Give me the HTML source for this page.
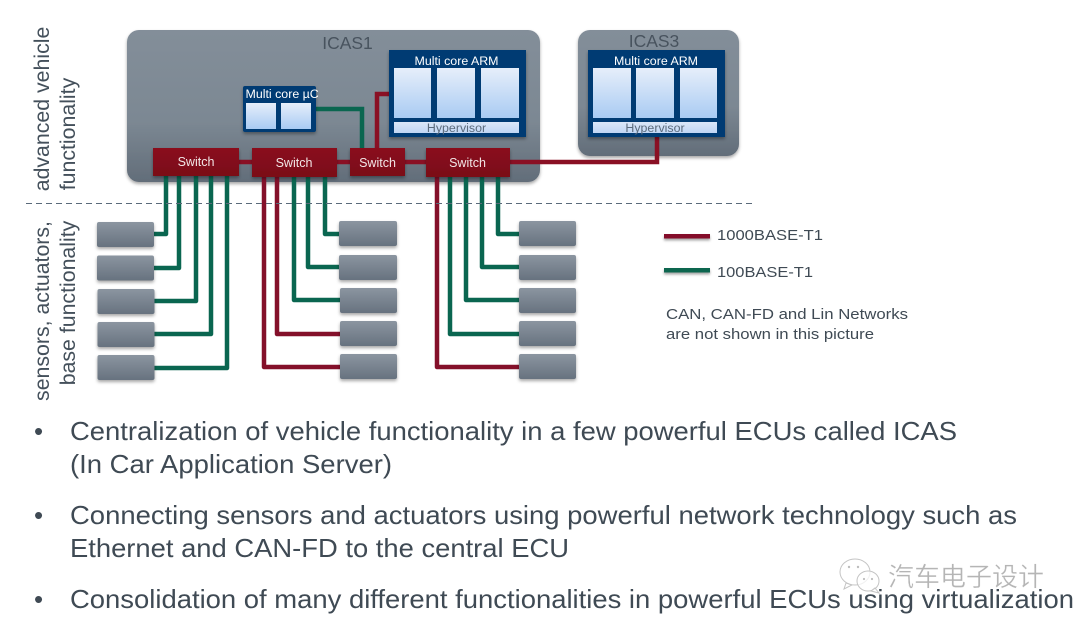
<!DOCTYPE html>
<html><head><meta charset="utf-8"><style>
html,body{margin:0;padding:0;background:#fff;width:1080px;height:624px;overflow:hidden}
svg{display:block;filter:blur(.35px)}
text{font-family:"Liberation Sans","Noto Sans CJK SC",sans-serif}
</style></head><body>
<svg width="1080" height="624" viewBox="0 0 1080 624" xmlns="http://www.w3.org/2000/svg">
<defs>
<linearGradient id="g1" x1="0" y1="0" x2="0" y2="1"><stop offset="0" stop-color="#838e99"/><stop offset=".6" stop-color="#7c8893"/><stop offset="1" stop-color="#626d79"/></linearGradient>
<linearGradient id="g2" x1="0" y1="0" x2="0" y2="1"><stop offset="0" stop-color="#8b95a0"/><stop offset="1" stop-color="#67727f"/></linearGradient>
<linearGradient id="c" x1="0" y1="0" x2="0" y2="1"><stop offset="0" stop-color="#e6eefa"/><stop offset="1" stop-color="#a9cbf3"/></linearGradient>
<linearGradient id="h" x1="0" y1="0" x2="0" y2="1"><stop offset="0" stop-color="#dbe7f8"/><stop offset="1" stop-color="#c0d6f4"/></linearGradient>
<linearGradient id="s" x1="0" y1="0" x2="0" y2="1"><stop offset="0" stop-color="#8a0f1e"/><stop offset="1" stop-color="#7a0a18"/></linearGradient>
<filter id="sh" x="-10%" y="-20%" width="120%" height="140%"><feDropShadow dx="0" dy="2" stdDeviation="1.6" flood-color="#000" flood-opacity=".35"/></filter>
<filter id="sl" filterUnits="userSpaceOnUse" x="650" y="220" width="80" height="70"><feDropShadow dx="0" dy="2" stdDeviation="1.2" flood-color="#000" flood-opacity=".35"/></filter>
</defs>

<!-- Server boxes -->
<rect x="127" y="30" width="413" height="152" rx="12" fill="url(#g1)" filter="url(#sh)"/>
<rect x="578" y="30" width="161" height="126" rx="12" fill="url(#g1)" filter="url(#sh)"/>
<text x="347.500" y="49" font-size="17.500" fill="#48535e" text-anchor="middle">ICAS1</text>
<text x="654" y="47" font-size="17.500" fill="#48535e" text-anchor="middle">ICAS3</text>

<!-- Internal connectors -->
<g fill="none" stroke-width="4.500">
<path d="M316 109H362V150" stroke="#0a6650"/>
<path d="M377 150V94H391" stroke="#8a1024"/>
<path d="M239 162H252M337 162H350M405 162H426M510 162H657V136" stroke="#8a1024"/>
</g>

<!-- Multi core ARM ICAS1 -->
<g filter="url(#sh)"><rect x="389" y="50" width="137" height="87" fill="#003b73"/></g>
<rect x="394" y="68" width="37" height="50" fill="url(#c)"/>
<rect x="437" y="68" width="38" height="50" fill="url(#c)"/>
<rect x="481" y="68" width="38" height="50" fill="url(#c)"/>
<rect x="394" y="122" width="125" height="11" fill="url(#h)"/>
<text x="456.500" y="65" font-size="12.400" fill="#fff" text-anchor="middle">Multi core ARM</text>
<text x="456.500" y="132" font-size="12.400" fill="#5b6b7c" text-anchor="middle">Hypervisor</text>

<!-- Multi core ARM ICAS3 -->
<g filter="url(#sh)"><rect x="588" y="50" width="137" height="87" fill="#003b73"/></g>
<rect x="593" y="68" width="38" height="50" fill="url(#c)"/>
<rect x="636" y="68" width="38" height="50" fill="url(#c)"/>
<rect x="680" y="68" width="37" height="50" fill="url(#c)"/>
<rect x="593" y="122" width="124" height="11" fill="url(#h)"/>
<text x="656" y="65" font-size="12.400" fill="#fff" text-anchor="middle">Multi core ARM</text>
<text x="655" y="132" font-size="12.400" fill="#5b6b7c" text-anchor="middle">Hypervisor</text>

<!-- Multi core uC -->
<g filter="url(#sh)"><rect x="243" y="86" width="73" height="46" rx="2" fill="#003b73"/></g>
<rect x="246" y="103" width="30" height="26" fill="url(#c)"/>
<rect x="281" y="103" width="30" height="26" fill="url(#c)"/>
<text x="245.500" y="98" font-size="12.400" fill="#fff">Multi core µC</text>

<!-- Device connectors -->
<g fill="none" stroke-width="4.500" stroke-linejoin="round">
<g stroke="#0a6650">
<path d="M166 176V234H154"/>
<path d="M179 176V268H154"/>
<path d="M196 176V301H154"/>
<path d="M211 176V334H154"/>
<path d="M227 176V368H154"/>
<path d="M294 176V300H340"/>
<path d="M308 176V267H340"/>
<path d="M325 176V234H340"/>
<path d="M450 176V334H520"/>
<path d="M466 176V300H520"/>
<path d="M482 176V267H520"/>
<path d="M498 176V234H520"/>
</g>
<g stroke="#84102a">
<path d="M264 176V367H340"/>
<path d="M277 176V334H340"/>
<path d="M437 176V367H520"/>
</g>
</g>

<!-- Switches -->
<g filter="url(#sh)">
<rect x="153" y="148" width="86" height="28" fill="url(#s)"/>
<rect x="252" y="148" width="85" height="29" fill="url(#s)"/>
<rect x="350" y="148" width="55" height="28" fill="url(#s)"/>
<rect x="426" y="148" width="84" height="29" fill="url(#s)"/>
</g>
<g font-size="12.500" fill="#f2e6e6" text-anchor="middle">
<text x="196" y="166">Switch</text>
<text x="294" y="167">Switch</text>
<text x="377.500" y="167">Switch</text>
<text x="467.500" y="167">Switch</text>
</g>

<!-- Dashed divider -->
<line x1="26" y1="203.500" x2="755" y2="203.500" stroke="#5a6a7a" stroke-width="1" stroke-dasharray="6 4"/>

<!-- Device boxes -->
<g fill="url(#g2)" filter="url(#sh)">
<rect x="97" y="222" width="57" height="25" rx="2"/>
<rect x="97" y="255.500" width="57" height="25" rx="2"/>
<rect x="97.500" y="289" width="57" height="25" rx="2"/>
<rect x="97.500" y="322" width="57" height="25" rx="2"/>
<rect x="97.500" y="355" width="57" height="25" rx="2"/>
<rect x="339" y="221" width="58" height="25" rx="2"/>
<rect x="339" y="255" width="58" height="25" rx="2"/>
<rect x="340" y="288" width="57" height="25" rx="2"/>
<rect x="340" y="321" width="57" height="25" rx="2"/>
<rect x="340" y="354" width="57" height="25" rx="2"/>
<rect x="519" y="221" width="57" height="25" rx="2"/>
<rect x="519" y="255" width="57" height="25" rx="2"/>
<rect x="519" y="288" width="57" height="25" rx="2"/>
<rect x="519" y="321" width="57" height="25" rx="2"/>
<rect x="519" y="354" width="57" height="25" rx="2"/>
</g>

<!-- Rotated labels -->
<g font-size="21.300" fill="#44505b" text-anchor="middle">
<text transform="translate(49 109) rotate(-90)">advanced vehicle</text>
<text transform="translate(75 134) rotate(-90)">functionality</text>
<text transform="translate(49 311) rotate(-90)">sensors, actuators,</text>
<text transform="translate(75 303) rotate(-90)">base functionality</text>
</g>

<!-- Legend -->
<g filter="url(#sl)">
<rect x="664" y="234" width="46" height="4.500" fill="#84102a"/>
<rect x="664" y="268" width="46" height="4.500" fill="#0a6650"/>
</g>
<g font-size="15" fill="#3f4a54">
<text x="717" y="240" textLength="106" lengthAdjust="spacingAndGlyphs">1000BASE-T1</text>
<text x="717" y="277" textLength="96" lengthAdjust="spacingAndGlyphs">100BASE-T1</text>
<text x="666" y="319" textLength="242" lengthAdjust="spacingAndGlyphs">CAN, CAN-FD and Lin Networks</text>
<text x="666" y="339" textLength="208" lengthAdjust="spacingAndGlyphs">are not shown in this picture</text>
</g>

<!-- Body text -->
<g font-size="26" fill="#3f4a54">
<text x="34" y="440">•</text>
<text x="70" y="440" textLength="887" lengthAdjust="spacingAndGlyphs">Centralization of vehicle functionality in a few powerful ECUs called ICAS</text>
<text x="70" y="473" textLength="322" lengthAdjust="spacingAndGlyphs">(In Car Application Server)</text>
<text x="34" y="524">•</text>
<text x="70" y="524" textLength="947" lengthAdjust="spacingAndGlyphs">Connecting sensors and actuators using powerful network technology such as</text>
<text x="70" y="557" textLength="499" lengthAdjust="spacingAndGlyphs">Ethernet and CAN-FD to the central ECU</text>
<text x="34" y="608">•</text>
<text x="70" y="608" textLength="1004" lengthAdjust="spacingAndGlyphs">Consolidation of many different functionalities in powerful ECUs using virtualization</text>
</g>

<!-- Watermark -->
<g fill="#fff" fill-opacity=".75" stroke="#c4c4c4" stroke-width="1">
<ellipse cx="855" cy="572" rx="15" ry="13"/>
<path d="M846 583l-2 6 8-4z"/>
<ellipse cx="868" cy="581" rx="11" ry="10"/>
<path d="M875 588l4 5-8-2z"/>
</g>
<g fill="#bdbdbd"><circle cx="849" cy="567" r="1.200"/><circle cx="858" cy="567" r="1.200"/><circle cx="864" cy="579" r="1.100"/><circle cx="872" cy="579" r="1.100"/></g>
<text x="888" y="586" font-size="26" fill="#b5b5b5" stroke="#fff" stroke-width=".3">汽车电子设计</text>
</svg>
</body></html>
